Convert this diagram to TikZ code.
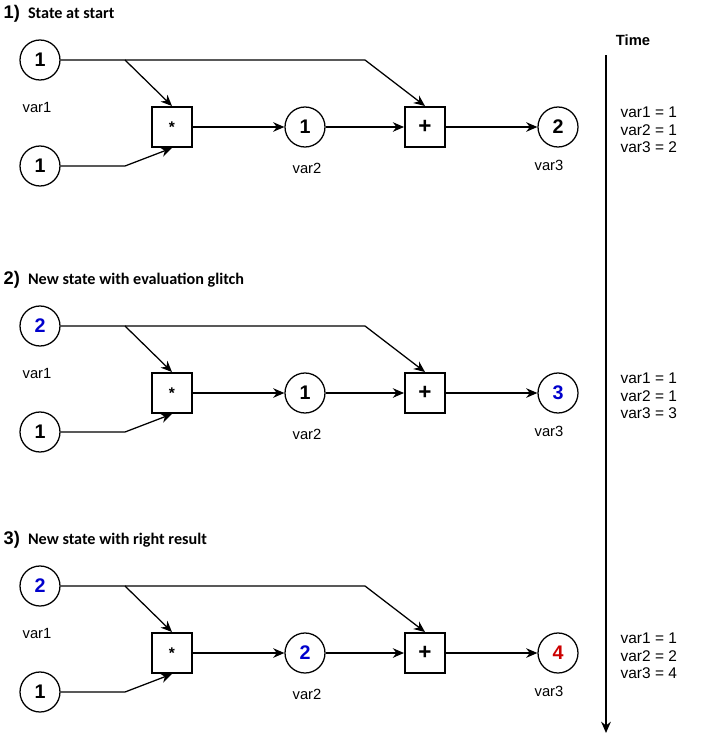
\documentclass[tikz,border=0pt]{standalone}
\usepackage{fontspec}
\setmainfont{Liberation Sans}
\newfontfamily\headfont{Carlito}
\usetikzlibrary{arrows.meta,positioning}
\definecolor{newblue}{RGB}{0,0,204}
\definecolor{newred}{RGB}{204,0,0}

\begin{document}
\begin{tikzpicture}[x=0.025cm, y=-0.025cm, line width=0.9pt,
    >={Stealth[length=2.8mm,width=2.4mm]}]
      \tikzstyle{every node}=[font=\fontsize{10.5}{12}\selectfont]
      \tikzstyle{var}=[circle, draw, minimum size=1cm, inner sep=0pt, font=\fontsize{14}{16}\selectfont\bfseries]
      \tikzstyle{op}=[rectangle, draw, line width=1.4pt, minimum size=1cm, inner sep=0pt]
      \tikzstyle{heading}=[anchor=west, inner sep=0pt]
      \tikzstyle{values}=[anchor=west, align=left, inner sep=0pt, font=\fontsize{11}{12.6}\selectfont]
      \useasboundingbox (0,0) rectangle (700,743);
      % one row per state
      \foreach \off/\row/\head/\va/\vm/\vp/\vals in {
          0/1/{State at start}/1/1/2/{var1 = 1\\var2 = 1\\var3 = 2},
          266/2/{New state with evaluation glitch}/{\color{newblue}2}/1/{\color{newblue}3}/{var1 = 1\\var2 = 1\\var3 = 3},
          526/3/{New state with right result}/{\color{newblue}2}/{\color{newblue}2}/{\color{newred}4}/{var1 = 1\\var2 = 2\\var3 = 4}} {
        \node [heading] (t\row) at (3, \off+14) {{\fontsize{13}{15}\selectfont\bfseries \row)}\ \ {\headfont\bfseries\fontsize{11.5}{13}\selectfont \head}};
        \node [var] (a\row) at (40, \off+60) {\va};
        \node [var] (b\row) at (40, \off+166) {1};
        \node [op, font=\fontsize{11}{12}\selectfont\bfseries] (m\row) at (172, \off+127) {*};
        \node [var] (c\row) at (305, \off+127) {\vm};
        \node [op, font=\fontsize{16}{18}\selectfont\bfseries] (p\row) at (425, \off+127) {+};
        \node [var] (d\row) at (558, \off+127) {\vp};
        \node (la\row) at (37, \off+107) {var1};
        \node (lc\row) at (307, \off+168) {var2};
        \node (ld\row) at (549, \off+165) {var3};
        \node [values] (v\row) at (620, \off+130) {\vals};
        \coordinate (ja\row) at (125, \off+60);
        \coordinate (jp\row) at (365, \off+60);
        \coordinate (jb\row) at (125, \off+166);
        \draw[->] (a\row) -- (ja\row) -- (m\row.north);
        \draw[->] (ja\row) -- (jp\row) -- (p\row.north);
        \draw[->] (b\row) -- (jb\row) -- (m\row.south);
        \draw[->] (m\row) edge (c\row) (c\row) edge (p\row) (p\row) edge (d\row);
      }
      \node [font=\fontsize{10.5}{12}\selectfont\bfseries] (time) at (633, 40) {Time};
      \coordinate (ts) at (606, 55);
      \coordinate (te) at (606, 733);
      \draw[->, line width=1.4pt] (ts) -- (te);
    \end{tikzpicture}
\end{document}
